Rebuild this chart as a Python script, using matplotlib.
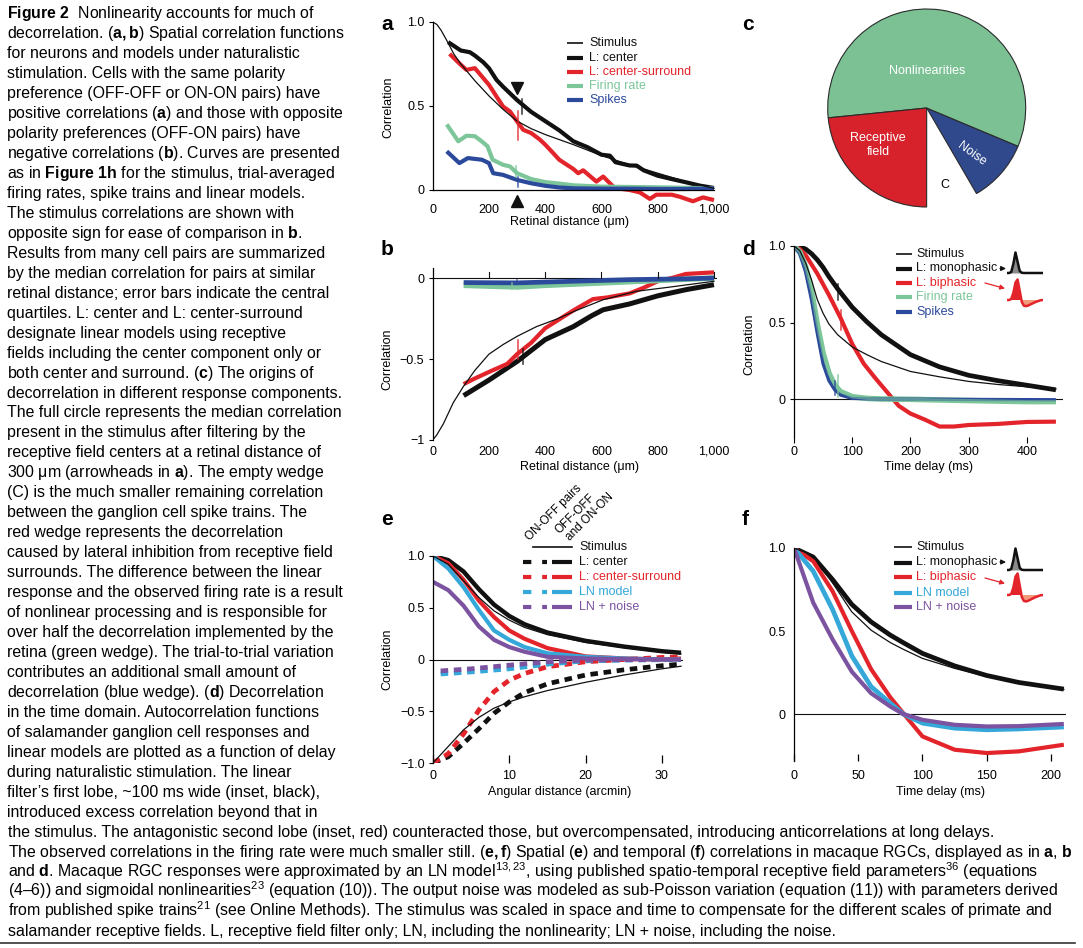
import matplotlib
matplotlib.use("Agg")
import matplotlib.pyplot as plt
from matplotlib import font_manager
from matplotlib.lines import Line2D
from matplotlib.patches import FancyArrowPatch
from matplotlib.ticker import FuncFormatter

W, H, DPI = 1083, 948, 100

installed = {f.name for f in font_manager.fontManager.ttflist}
SANS = "Liberation Sans" if "Liberation Sans" in installed else "DejaVu Sans"
NARROW = "Liberation Sans Narrow" if "Liberation Sans Narrow" in installed else SANS

plt.rcParams["font.family"] = [SANS, "DejaVu Sans"]
plt.rcParams["mathtext.fontset"] = "custom"
plt.rcParams["mathtext.rm"] = SANS
plt.rcParams["mathtext.it"] = SANS + ":italic"
plt.rcParams["mathtext.bf"] = SANS + ":bold"
plt.rcParams["axes.linewidth"] = 0.9

BLACK = "#111111"
RED = "#e3242b"
GREEN = "#7cc69a"
BLUE = "#2c4a9b"
CYAN = "#35a7d9"
PURPLE = "#7b53a0"

# ---------------- data: panel a (same polarity, salamander) ----------------
a_stim_x = [0, 15, 30, 50, 75, 100, 150, 200, 250, 300, 350, 400, 500, 600, 700, 800, 900, 1000]
a_stim = [1.0, 0.985, 0.95, 0.89, 0.81, 0.75, 0.65, 0.56, 0.48, 0.41, 0.365, 0.33, 0.27, 0.205, 0.15, 0.10, 0.05, 0.01]
a_lc_x = [55, 100, 132, 150, 180, 200, 227, 250, 300, 350, 400, 450, 500, 550, 600, 630, 650, 700, 725,
          750, 800, 850, 900, 950, 1000]
a_lc = [0.88, 0.83, 0.82, 0.80, 0.76, 0.725, 0.655, 0.615, 0.535, 0.465, 0.41, 0.355, 0.29, 0.255, 0.21,
        0.204, 0.165, 0.146, 0.145, 0.117, 0.085, 0.065, 0.046, 0.026, 0.012]
a_lcs_x = [60, 100, 120, 150, 200, 227, 250, 275, 300, 322, 350, 381, 400, 428, 450, 500, 517, 535, 582,
           606, 647, 700, 736, 772, 795, 850, 878, 925, 961, 1000]
a_lcs = [0.81, 0.745, 0.715, 0.725, 0.626, 0.556, 0.497, 0.467, 0.408, 0.358, 0.339, 0.30, 0.27, 0.22,
         0.18, 0.125, 0.10, 0.117, 0.05, 0.08, 0.012, 0.0, -0.014, -0.053, -0.028, -0.028, -0.04, -0.067,
         -0.044, -0.06]
a_rate_x = [50, 91, 120, 150, 174, 195, 213, 250, 275, 300, 350, 400, 450, 500, 600, 700, 800, 900, 1000]
a_rate = [0.39, 0.29, 0.323, 0.32, 0.29, 0.26, 0.18, 0.15, 0.14, 0.10, 0.065, 0.047, 0.038, 0.028, 0.02,
          0.018, 0.016, 0.013, 0.01]
a_spk_x = [50, 95, 125, 150, 175, 200, 215, 250, 275, 300, 350, 400, 450, 500, 600, 700, 800, 900, 1000]
a_spk = [0.23, 0.16, 0.19, 0.185, 0.18, 0.16, 0.10, 0.09, 0.075, 0.06, 0.04, 0.025, 0.015, 0.01, 0.008,
         0.008, 0.006, 0.006, 0.01]
a_err_x = [317, 302, 295, 304]
a_err_lo = [0.45, 0.30, 0.08, 0.02]
a_err_hi = [0.54, 0.47, 0.14, 0.08]
a_err_c = [BLACK, RED, GREEN, BLUE]
arrow_dist = 300
a_yticks = [0, 0.5, 1.0]
a_yticklabels = ["0", "0.5", "1.0"]
dist_ticks = [0, 200, 400, 600, 800, 1000]

# ---------------- data: panel b (opposite polarity) ----------------
b_stim_x = [0, 14, 38, 73, 109, 150, 200, 251, 300, 369, 440, 511, 606, 724, 843, 1000]
b_stim = [-1.0, -0.97, -0.9, -0.77, -0.67, -0.57, -0.47, -0.41, -0.36, -0.30, -0.254, -0.20, -0.134,
          -0.082, -0.056, -0.02]
b_lc_x = [110, 200, 300, 400, 500, 565, 606, 700, 800, 900, 1000]
b_lc = [-0.726, -0.63, -0.515, -0.38, -0.30, -0.233, -0.196, -0.16, -0.11, -0.072, -0.041]
b_lcs_x = [110, 150, 200, 265, 300, 350, 400, 450, 500, 570, 620, 700, 750, 800, 850, 900, 1000]
b_lcs = [-0.655, -0.62, -0.58, -0.53, -0.47, -0.40, -0.31, -0.255, -0.20, -0.13, -0.12, -0.095, -0.06,
         -0.02, 0.0, 0.025, 0.035]
b_rate_x = [110, 200, 300, 400, 600, 800, 1000]
b_rate = [-0.045, -0.05, -0.055, -0.045, -0.03, -0.015, 0.0]
b_spk_x = [110, 300, 500, 700, 900, 1000]
b_spk = [-0.028, -0.03, -0.02, -0.01, -0.005, 0.0]
b_err_x = [305, 322, 283, 300]
b_err_lo = [-0.50, -0.53, -0.07, -0.04]
b_err_hi = [-0.38, -0.44, -0.03, -0.015]
b_err_c = [RED, BLACK, GREEN, BLUE]
b_yticks = [-1, -0.5, 0]
b_yticklabels = ["\u22121", "\u22120.5", "0"]

# ---------------- data: panel c (pie) ----------------
pie_labels = ["Noise", "Nonlinearities", "Receptive\nfield", "C"]
pie_values = [0.103, 0.579, 0.234, 0.084]
pie_colors = ["#30498d", "#7cc194", "#d7212b", "white"]
pie_start = -59.8

# ---------------- data: panel d (temporal, salamander) ----------------
d_stim_x = [0, 10, 20, 30, 40, 50, 60, 75, 100, 125, 150, 200, 250, 300, 350, 400, 450]
d_stim = [1.0, 0.97, 0.89, 0.78, 0.65, 0.56, 0.49, 0.42, 0.34, 0.29, 0.245, 0.18, 0.145, 0.115, 0.095,
          0.08, 0.065]
d_mono_x = [0, 10, 20, 30, 40, 50, 60, 75, 100, 125, 150, 200, 250, 300, 350, 400, 450]
d_mono = [1.0, 0.995, 0.98, 0.95, 0.91, 0.86, 0.80, 0.72, 0.60, 0.505, 0.42, 0.29, 0.21, 0.155, 0.12,
          0.09, 0.06]
d_bi_x = [0, 10, 20, 40, 60, 80, 100, 120, 140, 160, 170, 180, 200, 225, 250, 275, 300, 350, 400, 450]
d_bi = [1.0, 0.98, 0.94, 0.82, 0.68, 0.53, 0.36, 0.23, 0.135, 0.045, 0.0, -0.045, -0.095, -0.135, -0.18,
        -0.18, -0.17, -0.163, -0.15, -0.148]
d_rate_x = [0, 10, 20, 30, 40, 50, 60, 70, 80, 100, 125, 150, 200, 300, 400, 450]
d_rate = [1.0, 0.96, 0.865, 0.71, 0.49, 0.30, 0.17, 0.09, 0.048, 0.015, 0.004, 0.0, -0.002, -0.01,
          -0.017, -0.017]
d_spk_x = [0, 10, 20, 30, 40, 50, 60, 70, 80, 100, 150, 300, 450]
d_spk = [1.0, 0.95, 0.83, 0.65, 0.43, 0.23, 0.12, 0.06, 0.026, 0.004, 0.0, -0.003, -0.005]
d_err_x = [75, 80, 76, 70]
d_err_lo = [0.65, 0.45, 0.015, 0.026]
d_err_hi = [0.75, 0.58, 0.16, 0.12]
d_err_c = [BLACK, RED, GREEN, BLUE]
pos_yticks = [0, 0.5, 1.0]
pos_yticklabels = ["0", "0.5", "1.0"]
d_xticks = [0, 100, 200, 300, 400]

# inset filter shapes (schematic)
filt_t = list(range(18))
mono_filter = [0, 0, 0.05, 0.45, 1.0, 0.55, 0.1, 0.01, 0, 0, 0, 0, 0, 0, 0, 0, 0, 0]
bi_filter = [0, 0, 0.05, 0.35, 0.85, 1.0, 0.45, -0.1, -0.28, -0.3, -0.27, -0.22, -0.17, -0.12, -0.08,
             -0.04, -0.01, 0]

# ---------------- data: panel e (spatial, macaque) ----------------
e_x = [0, 2, 4, 6, 8, 10, 12, 15, 20, 25, 30, 32.5]
e_stim_pos = [1.0, 0.92, 0.76, 0.60, 0.47, 0.38, 0.31, 0.24, 0.165, 0.115, 0.07, 0.055]
e_stim_neg = [-1.0, -0.84, -0.68, -0.56, -0.47, -0.41, -0.36, -0.30, -0.22, -0.15, -0.09, -0.065]
e_lc_pos = [1.0, 0.96, 0.85, 0.68, 0.53, 0.42, 0.34, 0.26, 0.18, 0.125, 0.08, 0.065]
e_lc_neg = [-1.0, -0.94, -0.81, -0.67, -0.52, -0.41, -0.32, -0.235, -0.15, -0.10, -0.06, -0.045]
e_lcs_pos = [1.0, 0.93, 0.77, 0.57, 0.41, 0.28, 0.20, 0.11, 0.03, 0.01, 0.0, 0.01]
e_lcs_neg = [-1.0, -0.91, -0.72, -0.49, -0.31, -0.20, -0.135, -0.07, -0.022, 0.0, 0.02, 0.025]
e_ln_pos = [1.0, 0.88, 0.70, 0.48, 0.28, 0.19, 0.12, 0.06, 0.025, 0.01, 0.0, 0.0]
e_noise_pos = [0.75, 0.67, 0.52, 0.32, 0.19, 0.12, 0.075, 0.026, 0.01, 0.005, 0.0, 0.0]
e_x2 = [1, 5, 10, 15, 20, 25, 32.5]
e_ln_neg = [-0.14, -0.12, -0.09, -0.045, -0.013, -0.006, 0.0]
e_noise_neg = [-0.11, -0.09, -0.055, -0.022, -0.006, -0.002, 0.0]
e_yticks = [-1.0, -0.5, 0, 0.5, 1.0]
e_yticklabels = ["\u22121.0", "\u22120.5", "0", "0.5", "1.0"]
e_xticks = [0, 10, 20, 30]

# ---------------- data: panel f (temporal, macaque) ----------------
f_x = [0, 15, 30, 45, 60, 75, 85, 100, 125, 150, 175, 210]
f_stim = [1.0, 0.955, 0.79, 0.615, 0.505, 0.43, 0.39, 0.335, 0.275, 0.225, 0.19, 0.148]
f_mono = [1.0, 0.945, 0.81, 0.66, 0.555, 0.475, 0.43, 0.365, 0.29, 0.232, 0.19, 0.15]
f_bi = [1.0, 0.92, 0.74, 0.50, 0.27, 0.10, 0.005, -0.135, -0.215, -0.235, -0.225, -0.185]
f_ln = [1.0, 0.86, 0.63, 0.35, 0.165, 0.065, 0.0, -0.055, -0.085, -0.095, -0.09, -0.078]
f_noise = [1.0, 0.67, 0.45, 0.255, 0.125, 0.045, 0.0, -0.035, -0.065, -0.075, -0.073, -0.06]
f_xticks = [0, 50, 100, 150, 200]

# ---------------- caption ----------------
caption_left = [
    r"$\mathbf{Figure\ 2}$  Nonlinearity accounts for much of",
    r"decorrelation. ($\mathbf{a,b}$) Spatial correlation functions",
    "for neurons and models under naturalistic",
    "stimulation. Cells with the same polarity",
    "preference (OFF-OFF or ON-ON pairs) have",
    r"positive correlations ($\mathbf{a}$) and those with opposite",
    "polarity preferences (OFF-ON pairs) have",
    r"negative correlations ($\mathbf{b}$). Curves are presented",
    r"as in $\mathbf{Figure\ 1h}$ for the stimulus, trial-averaged",
    "firing rates, spike trains and linear models.",
    "The stimulus correlations are shown with",
    r"opposite sign for ease of comparison in $\mathbf{b}$.",
    "Results from many cell pairs are summarized",
    "by the median correlation for pairs at similar",
    "retinal distance; error bars indicate the central",
    "quartiles. L: center and L: center-surround",
    "designate linear models using receptive",
    "fields including the center component only or",
    r"both center and surround. ($\mathbf{c}$) The origins of",
    "decorrelation in different response components.",
    "The full circle represents the median correlation",
    "present in the stimulus after filtering by the",
    "receptive field centers at a retinal distance of",
    r"300 \u03bcm (arrowheads in $\mathbf{a}$). The empty wedge".replace("\\u03bc", "\u03bc"),
    "(C) is the much smaller remaining correlation",
    "between the ganglion cell spike trains. The",
    "red wedge represents the decorrelation",
    "caused by lateral inhibition from receptive field",
    "surrounds. The difference between the linear",
    "response and the observed firing rate is a result",
    "of nonlinear processing and is responsible for",
    "over half the decorrelation implemented by the",
    "retina (green wedge). The trial-to-trial variation",
    "contributes an additional small amount of",
    r"decorrelation (blue wedge). ($\mathbf{d}$) Decorrelation",
    "in the time domain. Autocorrelation functions",
    "of salamander ganglion cell responses and",
    "linear models are plotted as a function of delay",
    "during naturalistic stimulation. The linear",
    "filter\u2019s first lobe, ~100 ms wide (inset, black),",
    "introduced excess correlation beyond that in",
]
caption_bottom = [
    "the stimulus. The antagonistic second lobe (inset, red) counteracted those, but overcompensated, "
    "introducing anticorrelations at long delays.",
    r"The observed correlations in the firing rate were much smaller still. ($\mathbf{e,f}$) Spatial "
    r"($\mathbf{e}$) and temporal ($\mathbf{f}$) correlations in macaque RGCs, displayed as in "
    r"$\mathbf{a}$, $\mathbf{b}$",
    r"and $\mathbf{d}$. Macaque RGC responses were approximated by an LN model$^{13,23}$, using published "
    r"spatio-temporal receptive field parameters$^{36}$ (equations",
    "(4\u20136)) and sigmoidal nonlinearities$^{23}$ (equation (10)). The output noise was modeled as "
    "sub-Poisson variation (equation (11)) with parameters derived",
    "from published spike trains$^{21}$ (see Online Methods). The stimulus was scaled in space and time "
    "to compensate for the different scales of primate and",
    "salamander receptive fields. L, receptive field filter only; LN, including the nonlinearity; "
    "LN + noise, including the noise.",
]

fig = plt.figure(figsize=(W / DPI, H / DPI), dpi=DPI)


def fxy(x, y):
    return x / W, 1 - y / H


def px_axes(rect):
    x0, y0, x1, y1 = rect
    return fig.add_axes([x0 / W, 1 - y1 / H, (x1 - x0) / W, (y1 - y0) / H])


def set_ylabel_px(ax, rect, text, x_right, y_center):
    x0, y0, x1, y1 = rect
    ax.set_ylabel(text, fontsize=9)
    ax.yaxis.set_label_coords((x_right - x0) / (x1 - x0), (y1 - y_center) / (y1 - y0))


def set_xlabel_px(ax, rect, text, x_center, y_top):
    x0, y0, x1, y1 = rect
    ax.set_xlabel(text, fontsize=9)
    ax.xaxis.set_label_coords((x_center - x0) / (x1 - x0), (y1 - y_top) / (y1 - y0))


def fig_line(xs, ys, **kw):
    pts = [fxy(x, y) for x, y in zip(xs, ys)]
    fig.add_artist(Line2D([p[0] for p in pts], [p[1] for p in pts], transform=fig.transFigure, **kw))


def legend_px(entries, rows, x0, x1, xt):
    for (label, color, lw), y in zip(entries, rows):
        fig_line([x0, x1], [y, y], color=color, lw=lw, solid_capstyle="butt")
        fig.text(*fxy(xt, y), label, color=color, fontsize=9, va="center", ha="left")


def panel_letter(s, x, y):
    fig.text(*fxy(x, y), s, fontsize=15, fontweight="bold", va="baseline", ha="left")


def fig_arrow(p0, p1, color):
    fig.add_artist(FancyArrowPatch(fxy(*p0), fxy(*p1), transform=fig.transFigure, arrowstyle="-|>",
                                   mutation_scale=7, color=color, lw=0.9, shrinkA=0, shrinkB=0))


def filter_inset(x0, x1, base_red, base_black, unit):
    top, bot = base_black - 1.15 * unit, base_red + 0.5 * unit
    ax = px_axes((x0, top, x1, bot))
    off = (base_red - base_black) / unit
    ax.fill_between(filt_t, off, [off + v for v in mono_filter], color="#8a8a8a", lw=0)
    ax.plot(filt_t, [off + v for v in mono_filter], color=BLACK, lw=1.8)
    ax.fill_between(filt_t, 0, bi_filter, where=[v >= 0 for v in bi_filter], color=RED, lw=0,
                    interpolate=True)
    ax.fill_between(filt_t, 0, bi_filter, where=[v <= 0 for v in bi_filter], color="#f29a7c", lw=0,
                    interpolate=True)
    ax.plot(filt_t, bi_filter, color=RED, lw=1.8)
    ax.set_xlim(0, 17)
    ax.set_ylim(-(bot - base_red) / unit, (base_red - top) / unit)
    ax.axis("off")


def style_left(ax, yticks, yticklabels):
    ax.spines[["top", "right"]].set_visible(False)
    ax.set_yticks(yticks)
    ax.set_yticklabels(yticklabels)
    ax.tick_params(axis="y", length=3, pad=3, labelsize=9, width=0.8)


def errbars(ax, xs, lo, hi, colors):
    for x, a, b, c in zip(xs, lo, hi, colors):
        ax.plot([x, x], [a, b], color=c, lw=1.1, alpha=0.85, zorder=6)


thin = dict(color=BLACK, lw=0.9, zorder=5)
thick = dict(lw=3.0, solid_capstyle="butt")
dist_fmt = FuncFormatter(lambda v, p: f"{int(v):,}")

# ---------------- panel a ----------------
ra = (432.7, 18.6, 716.8, 206.8)
ax = px_axes(ra)
ax.plot(a_lc_x, a_lc, color=BLACK, **thick)
ax.plot(a_lcs_x, a_lcs, color=RED, **thick)
ax.plot(a_rate_x, a_rate, color=GREEN, **thick)
ax.plot(a_spk_x, a_spk, color=BLUE, **thick)
ax.plot(a_stim_x, a_stim, **thin)
errbars(ax, a_err_x, a_err_lo, a_err_hi, a_err_c)
ax.plot([arrow_dist], [0.605], marker="v", ms=9, color=BLACK, clip_on=False, zorder=7)
ax.plot([arrow_dist], [-0.068], marker="^", ms=9, color=BLACK, clip_on=False, zorder=7)
ax.set_xlim(0, 1010)
ax.set_ylim(-0.1, 1.02)
style_left(ax, a_yticks, a_yticklabels)
ax.spines["bottom"].set_position(("data", 0))
ax.spines["bottom"].set_bounds(0, 1000)
ax.spines["left"].set_bounds(0, 1)
ax.set_xticks(dist_ticks)
ax.xaxis.set_major_formatter(dist_fmt)
ax.tick_params(axis="x", length=0, pad=10, labelsize=9)
set_ylabel_px(ax, ra, "Correlation", 394, 107)
set_xlabel_px(ax, ra, "Retinal distance (\u03bcm)", 570, 216)
legend_px([("Stimulus", BLACK, 1.2), ("L: center", BLACK, 3), ("L: center-surround", RED, 3),
           ("Firing rate", GREEN, 3), ("Spikes", BLUE, 3)],
          [43.3, 57.7, 71.7, 86, 100], 567, 583, 589)
panel_letter("a", 381, 30)

# ---------------- panel b ----------------
rb = (432.7, 268.3, 716.8, 440)
ax = px_axes(rb)
ax.axhline(0, color=BLACK, lw=0.8)
ax.plot(b_lc_x, b_lc, color=BLACK, lw=3.6, solid_capstyle="butt")
ax.plot(b_lcs_x, b_lcs, color=RED, **thick)
ax.plot(b_rate_x, b_rate, color=GREEN, lw=4, solid_capstyle="butt")
ax.plot(b_spk_x, b_spk, color=BLUE, lw=3.4, solid_capstyle="butt")
ax.plot(b_stim_x, b_stim, **thin)
errbars(ax, b_err_x, b_err_lo, b_err_hi, b_err_c)
ax.set_xlim(0, 1010)
ax.set_ylim(-1, 0.06)
style_left(ax, b_yticks, b_yticklabels)
ax.spines["bottom"].set_visible(False)
ax.set_xticks(dist_ticks)
ax.xaxis.set_major_formatter(dist_fmt)
ax.tick_params(axis="x", length=0, pad=4, labelsize=9)
for t in dist_ticks[1:]:
    ax.plot([t, t], [0, 0.035], color=BLACK, lw=0.8)
set_ylabel_px(ax, rb, "Correlation", 393, 359)
set_xlabel_px(ax, rb, "Retinal distance (\u03bcm)", 580, 461)
panel_letter("b", 381, 255)

# ---------------- panel c ----------------
rc = (827.7, 9, 1025.7, 207)
axc = px_axes(rc)
wedges, _ = axc.pie(pie_values, colors=pie_colors, startangle=pie_start, counterclock=True,
                    wedgeprops=dict(edgecolor="#2a2a2a", linewidth=0.8))
wedges[3].set_facecolor("none")
wedges[3].set_edgecolor("none")
axc.set_xlim(-1.0, 1.0)
axc.set_ylim(-1.0, 1.0)
axc.set_aspect("equal")
axc.axis("off")
pie_text_pos = [(0.45, -0.465, -36), (0.0, 0.375, 0), (-0.49, -0.375, 0), (0.185, -0.78, 0)]
for lab, (tx, ty, rot) in zip(pie_labels, pie_text_pos):
    axc.text(tx, ty, lab, ha="center", va="center", fontsize=9, rotation=rot,
             color="black" if lab == "C" else "white", linespacing=1.25)
panel_letter("c", 742, 30)

# ---------------- panel d ----------------
rd = (794, 246, 1062.9, 437.25)
ax = px_axes(rd)
ax.axhline(0, color=BLACK, lw=0.8)
ax.plot(d_mono_x, d_mono, color=BLACK, lw=3.4, solid_capstyle="butt")
ax.plot(d_bi_x, d_bi, color=RED, **thick)
ax.plot(d_rate_x, d_rate, color=GREEN, lw=4, solid_capstyle="butt")
ax.plot(d_spk_x, d_spk, color=BLUE, lw=2.4, solid_capstyle="butt")
ax.plot(d_rate_x, d_rate, color=GREEN, lw=2.2, alpha=0.6, solid_capstyle="butt")
ax.plot(d_stim_x, d_stim, **thin)
errbars(ax, d_err_x, d_err_lo, d_err_hi, d_err_c)
ax.set_xlim(0, 462)
ax.set_ylim(-0.25, 1.0)
style_left(ax, pos_yticks, pos_yticklabels)
ax.spines["bottom"].set_visible(False)
ax.set_xticks(d_xticks)
ax.tick_params(axis="x", length=4, pad=2, labelsize=9, width=0.8)
set_ylabel_px(ax, rd, "Correlation", 755, 344)
set_xlabel_px(ax, rd, "Time delay (ms)", 929, 461)
legend_px([("Stimulus", BLACK, 1.2), ("L: monophasic", BLACK, 3), ("L: biphasic", RED, 3),
           ("Firing rate", GREEN, 3), ("Spikes", BLUE, 3)],
          [254, 268.5, 283, 297, 312], 896, 912, 916)
filter_inset(1007, 1043, 300, 273, 20.5)
fig_arrow((1000, 268.5), (1006, 268.5), BLACK)
fig_arrow((985, 283), (1005, 288.5), RED)
panel_letter("d", 742, 255)

# ---------------- panel e ----------------
re = (433, 556, 683.3, 763)
ax = px_axes(re)
ax.axhline(0, color=BLACK, lw=0.8)
dash = dict(lw=3.4, dashes=(1.6, 1.2), solid_capstyle="butt", dash_capstyle="butt")
ax.plot(e_x, e_lc_neg, color=BLACK, **dash)
ax.plot(e_x, e_lcs_neg, color=RED, **dash)
ax.plot(e_x2, e_ln_neg, color=CYAN, **dash)
ax.plot(e_x2, e_noise_neg, color=PURPLE, **dash)
ax.plot(e_x, e_lc_pos, color=BLACK, lw=3.2, solid_capstyle="butt")
ax.plot(e_x, e_lcs_pos, color=RED, **thick)
ax.plot(e_x, e_ln_pos, color=CYAN, **thick)
ax.plot(e_x, e_noise_pos, color=PURPLE, **thick)
ax.plot(e_x, e_stim_pos, **thin)
ax.plot(e_x, e_stim_neg, **thin)
ax.set_xlim(0, 32.8)
ax.set_ylim(-1, 1)
style_left(ax, e_yticks, e_yticklabels)
ax.spines["bottom"].set_visible(False)
ax.set_xticks(e_xticks)
ax.tick_params(axis="x", direction="in", length=6, pad=5, labelsize=9, width=0.9)
set_ylabel_px(ax, re, "Correlation", 393, 659)
set_xlabel_px(ax, re, "Angular distance (arcmin)", 560, 786)
e_rows = [547.3, 561.7, 577.3, 592.3, 607.3]
fig_line([533, 572], [e_rows[0]] * 2, color=BLACK, lw=1.2)
fig.text(*fxy(579, e_rows[0]), "Stimulus", fontsize=9, va="center", ha="left", color=BLACK)
for (label, color), y in zip([("L: center", BLACK), ("L: center-surround", RED), ("LN model", CYAN),
                              ("LN + noise", PURPLE)], e_rows[1:]):
    fig_line([523, 547], [y, y], color=color, lw=3, dashes=(2.0, 2.6), dash_capstyle="butt")
    fig_line([552, 572], [y, y], color=color, lw=3, solid_capstyle="butt")
    fig.text(*fxy(579, y), label, fontsize=9, va="center", ha="left", color=color)
for s, (hx, hy) in zip(["ON-OFF pairs", "OFF-OFF", "and ON-ON"], [(530, 541), (560, 534), (570, 541)]):
    fig.text(*fxy(hx, hy), s, fontsize=8.5, rotation=45, rotation_mode="anchor", ha="left",
             va="baseline")
panel_letter("e", 381, 525)

# ---------------- panel f ----------------
rf = (794, 548, 1066.4, 760.5)
ax = px_axes(rf)
ax.axhline(0, color=BLACK, lw=0.8)
ax.plot(f_x, f_mono, color=BLACK, lw=3.4, solid_capstyle="butt")
ax.plot(f_x, f_bi, color=RED, **thick)
ax.plot(f_x, f_ln, color=CYAN, lw=3.4, solid_capstyle="butt")
ax.plot(f_x, f_noise, color=PURPLE, **thick)
ax.plot(f_x, f_stim, **thin)
ax.set_xlim(0, 212)
ax.set_ylim(-0.28, 1.0)
style_left(ax, pos_yticks, pos_yticklabels)
ax.tick_params(axis="y", length=0, pad=6)
ax.spines["bottom"].set_visible(False)
ax.set_xticks(f_xticks)
ax.tick_params(axis="x", direction="in", length=5, pad=7, labelsize=9, width=0.9)
set_xlabel_px(ax, rf, "Time delay (ms)", 940, 786)
legend_px([("Stimulus", BLACK, 1.2), ("L: monophasic", BLACK, 3), ("L: biphasic", RED, 3),
           ("LN model", CYAN, 3), ("LN + noise", PURPLE, 3)],
          [547, 562.5, 577, 592.5, 607], 894, 912, 916)
filter_inset(1007, 1043, 595, 570, 21.5)
fig_arrow((1000, 562), (1006, 562), BLACK)
fig_arrow((985, 578), (1005, 583.5), RED)
panel_letter("f", 742, 525)


# ---------------- caption text ----------------
def fit_block(lines, x, y0, step, ref, target, family):
    objs = [fig.text(*fxy(x, y0 + i * step), s, fontsize=10, family=family, va="baseline", ha="left")
            for i, s in enumerate(lines)]
    renderer = fig.canvas.get_renderer()
    width = objs[ref].get_window_extent(renderer).width
    for t in objs:
        t.set_fontsize(10 * target / width)
    return objs


fit_block(caption_left, 7, 18.3, 19.96, 20, 336, [SANS, "DejaVu Sans"])
fit_block(caption_bottom, 8, 836.6, 19.96, 1, 1064, [NARROW, SANS, "DejaVu Sans"])
fig_line([0, 1075], [943, 943], color="#333333", lw=1.2)

fig.savefig("out.png", dpi=DPI)
